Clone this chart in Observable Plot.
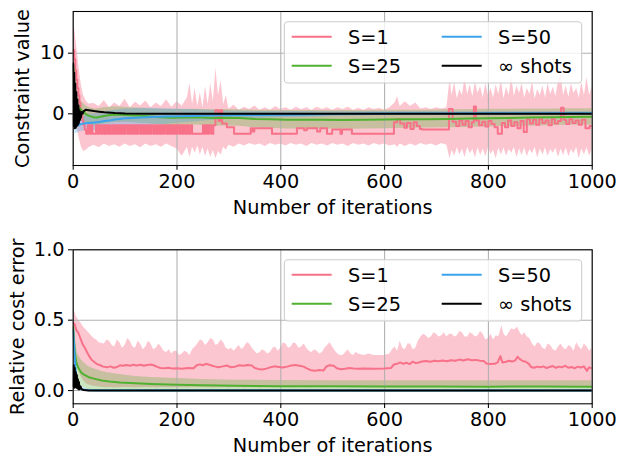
<!DOCTYPE html>
<html><head><meta charset="utf-8">
<script src="https://cdn.jsdelivr.net/npm/d3@7"></script>
<script src="https://cdn.jsdelivr.net/npm/@observablehq/plot@0.6"></script>
<style>
body{margin:0;background:#fff;}
#wrap{position:relative;width:619px;height:457px;overflow:hidden;}
#wrap svg.plotsvg{display:block;}
#legend{position:absolute;left:0;top:0;pointer-events:none;}
</style></head><body><div id="wrap"></div>
<script>
// ---------- shared ----------
const xTicks = [0, 200, 400, 600, 800, 1000];
const topYTicks = [0, 10];
const botYTicks = [0, 0.5, 1.0];
const seriesNames = ["S=1", "S=25", "S=50", "\u221e shots"];
const seriesColors = ["#f77189", "#50b131", "#3ba3ec", "#000000"];
const xLabel = "Number of iterations";
const topYLabel = "Constraint value";
const botYLabel = "Relative cost error";

// ---------- top panel: constraint value ----------
// [iteration, value]
const topS1Line = [[0,10.5],[2,9.0],[4,7.2],[6,5.6],[8,4.2],[10,3.0],[12,1.8],[14,0.6],[16,-0.4],[18,-1.2],[20,-1.9],[22,-2.6],[25,-3.3],
[28,-1.9],[31,-3.3],[34,-1.9],[37,-3.3],[40,-3.3],[44,-1.9],[47,-3.3],[50,-1.9],[53,-3.3],[57,-1.9],[60,-3.3],[63,-1.9],[66,-3.3],[69,-1.9],[72,-3.3],[76,-1.9],[79,-3.3],[82,-1.9],[85,-3.3],[88,-1.9],[91,-3.3],[94,-1.9],[97,-3.3],[100,-1.9],[104,-3.3],[107,-1.9],[110,-3.3],[113,-1.9],[116,-3.3],[119,-1.9],[122,-3.3],[125,-1.9],[129,-3.3],[132,-1.9],[135,-3.3],[138,-1.9],[141,-3.3],[144,-1.9],[147,-3.3],[150,-1.9],[154,-3.3],[157,-1.9],[160,-3.3],[163,-1.9],[166,-3.3],[169,-1.9],[172,-3.3],[175,-1.9],[179,-3.3],[182,-1.9],[185,-3.3],[188,-1.9],[191,-3.3],[194,-1.9],[197,-3.3],[200,-1.9],[204,-3.3],[207,-1.9],[210,-3.3],[213,-1.9],[216,-3.3],[219,-1.9],[222,-3.3],[226,-1.9],[229,-3.3],
[250,-1.9],[253,-3.3],[256,-1.9],[259,-3.3],[262,-1.9],[266,-3.3],[270,-1.9],[274,0.6],[280,-1.2],[284,0.6],[287,-1.6],[296,-2.2],[310,-3.3],[342,-2.4],[346,-2.9],[349,-2.4],[383,-3.3],[431,-2.4],[445,-2.7],[450,-2.4],[470,-2.9],[476,-2.4],[489,-3.3],[499,-2.6],[515,-3.3],[518,-2.6],[537,-3.3],
[618,-1.4],[624,-0.9],[630,-1.6],[638,-2.3],[643,-1.5],[650,-2.5],[656,-1.4],[662,-2.0],[668,-2.5],[672,-2.6],[724,0.8],[731,-1.3],[738,-2.0],[744,-1.1],[750,-1.8],[756,-1.2],[762,-2.2],[768,-1.4],[772,1.2],[776,-1.1],[782,-1.9],[788,-1.3],[794,-2.1],[800,-1.2],[806,-1.7],[812,-2.2],[818,-3.3],[826,-1.5],[832,-2.2],[838,-1.1],[844,-2.0],[850,-1.4],[856,-2.4],[862,-1.2],[868,-3.0],[874,-0.9],[880,-1.6],[886,-1.0],[892,-1.8],[898,-0.9],[904,-1.5],[910,-1.1],[916,-1.9],[922,-0.9],[928,-1.6],[934,-1.2],[940,1.0],[945,-1.0],[950,-1.7],[956,-0.9],[962,-1.5],[968,-1.1],[974,-1.8],[980,-1.0],[987,-2.4],[995,-2.0],[1000,-2.0]];
// [iteration, lower, upper]
const topS1Band = [[0,5.0,15.5],[2,2.0,14.5],[4,0.0,13.2],[6,-1.5,11.8],[8,-2.5,10.2],[10,-3.5,8.6],[13,-4.5,6.5],[16,-5.5,4.6],[20,-6.2,3.0],[25,-6.0,2.1],[30,-5.6,1.6],
[40,-5.2,1.7],[50,-5.6,1.2],[60,-5.0,2.2],[70,-5.4,1.0],[80,-5.1,1.8],[90,-5.5,1.2],[100,-5.0,2.4],[110,-5.4,1.0],[120,-5.1,1.9],[130,-5.6,1.3],[140,-5.0,2.1],[150,-5.4,1.0],[160,-5.1,1.8],[170,-5.5,1.2],[180,-5.0,2.3],[190,-5.4,1.1],[200,-5.8,2.0],[210,-7.0,1.3],[220,-5.5,2.6],
[225,-7.2,5.0],[230,-5.5,1.5],[235,-6.5,4.2],[240,-5.3,1.2],[245,-6.8,3.5],[250,-5.5,1.0],[255,-7.0,4.5],[260,-5.8,1.5],[265,-7.2,5.0],[270,-6.0,2.0],[275,-7.4,7.5],[280,-6.2,3.0],[285,-6.8,5.5],[290,-5.5,1.5],[295,-6.0,3.0],[300,-5.2,0.8],
[310,-5.5,1.4],[320,-5.0,0.6],[330,-5.3,1.1],[340,-4.9,0.7],[350,-5.2,1.3],[360,-5.0,0.6],[370,-5.4,1.0],[380,-4.9,0.6],[390,-5.2,1.2],[400,-5.0,0.7],[410,-5.3,1.0],[420,-4.9,0.6],[430,-5.2,1.1],[440,-5.0,0.7],[450,-5.4,1.0],[460,-4.9,0.6],[470,-5.2,1.1],[480,-5.0,0.7],[490,-5.3,1.0],[500,-4.9,0.6],[510,-5.2,1.0],[520,-5.0,0.7],[530,-5.4,1.1],[540,-4.9,0.6],[550,-5.2,0.9],[560,-5.0,0.6],[570,-5.3,1.0],[580,-4.9,0.7],[590,-5.2,0.9],[600,-5.0,0.6],[610,-5.3,1.0],[620,-5.1,1.8],[625,-5.5,2.8],[630,-5.0,1.2],[640,-5.4,2.0],[650,-5.0,1.2],[660,-5.3,1.8],[670,-4.9,0.8],[680,-5.2,1.0],[690,-5.0,0.7],[700,-5.3,1.0],[710,-4.9,0.8],[720,-5.2,1.0],
[726,-7.4,5.6],[730,-6.0,3.0],[735,-7.0,5.2],[740,-5.6,2.5],[745,-6.8,4.0],[750,-5.8,3.0],[755,-7.2,6.0],[760,-5.5,3.2],[765,-6.6,4.8],[770,-5.9,2.8],[775,-7.3,5.2],[780,-5.6,3.4],[785,-6.9,4.5],[790,-5.8,2.6],[795,-7.1,5.0],[800,-5.5,3.0],[805,-6.7,4.2],[810,-6.0,2.6],[815,-7.4,4.8],[820,-5.7,3.2],[825,-6.8,5.5],[830,-5.6,2.5],[835,-7.0,4.4],[840,-5.9,3.0],[845,-6.5,6.2],[850,-5.5,2.8],[855,-7.2,4.6],[860,-5.8,3.4],[865,-6.9,5.0],[870,-5.6,2.6],[875,-7.1,4.2],[880,-5.9,3.2],[885,-6.6,5.3],[890,-5.5,2.4],[895,-7.3,4.0],[900,-5.8,3.0],[905,-6.8,4.6],[910,-5.6,2.6],[915,-7.0,5.0],[920,-5.9,3.2],[925,-6.5,4.4],[930,-5.7,2.8],[935,-7.2,5.4],[940,-5.8,6.5],[945,-6.9,3.0],[950,-5.6,4.6],[955,-7.1,2.7],[960,-5.9,5.0],[965,-6.6,3.3],[970,-5.5,4.2],[975,-7.4,2.6],[980,-5.8,5.2],[985,-6.8,3.0],[990,-5.6,6.0],[995,-7.0,3.0],[1000,-5.9,4.5]];
const topS25Line = [[0,8.0],[2,5.5],[4,3.6],[6,2.2],[8,1.2],[10,0.5],[13,0.9],[16,0.6],[20,0.3],[25,-0.1],[30,-0.3],[36,-0.5],[42,-0.6],[46,-0.62],[52,-0.5],[60,-0.35],[70,-0.2],[82,-0.15],[95,-0.15],[110,-0.22],[130,-0.33],[150,-0.45],[170,-0.55],[190,-0.65],[215,-0.6],[240,-0.55],[265,-0.7],[290,-0.65],[320,-0.7],[350,-0.85],[380,-0.9],[410,-1.0],[440,-1.0],[480,-1.0],[520,-1.02],[560,-1.0],[600,-0.95],[640,-0.9],[680,-0.88],[720,-0.85],[760,-0.78],[800,-0.72],[840,-0.68],[880,-0.62],[920,-0.57],[960,-0.52],[1000,-0.48]];
const topS25Band = [[0,4.0,11.0],[2,1.5,9.0],[4,-0.2,7.0],[6,-1.0,5.0],[8,-1.4,3.5],[10,-1.6,2.5],[13,-1.2,2.3],[16,-1.2,2.0],[20,-1.3,1.7],[25,-1.5,1.3],[30,-1.7,1.1],[36,-1.9,0.9],[42,-2.0,0.8],[46,-2.0,0.8],[52,-1.9,0.9],[60,-1.7,1.0],[70,-1.5,1.1],[82,-1.45,1.15],[95,-1.4,1.1],[110,-1.45,1.0],[130,-1.55,0.9],[150,-1.7,0.8],[170,-1.85,0.75],[190,-2.0,0.7],[215,-1.9,0.7],[240,-1.85,0.75],[265,-2.05,0.65],[290,-2.0,0.7],[320,-2.05,0.65],[350,-2.3,0.6],[380,-2.4,0.6],[410,-2.5,0.55],[440,-2.5,0.55],[480,-2.5,0.55],[520,-2.55,0.55],[560,-2.5,0.55],[600,-2.45,0.6],[640,-2.4,0.6],[680,-2.35,0.6],[720,-2.3,0.65],[760,-2.25,0.7],[800,-2.15,0.75],[840,-2.1,0.75],[880,-2.05,0.8],[920,-1.95,0.8],[960,-1.9,0.85],[1000,-1.85,0.85]];
const topS50Line = [[3,-2.0],[6,-1.95],[10,-1.85],[15,-1.7],[20,-1.6],[30,-1.5],[40,-1.45],[50,-1.35],[60,-1.2],[70,-1.1],[80,-0.95],[90,-0.85],[100,-0.75],[115,-0.68],[130,-0.6],[150,-0.52],[175,-0.46],[200,-0.4],[230,-0.35],[260,-0.3],[300,-0.25],[350,-0.2],[400,-0.15],[450,-0.1],[500,-0.05],[600,0.03],[700,0.07],[800,0.09],[900,0.1],[1000,0.1]];
const topS50Band = [[3,-3.3,-0.8],[6,-3.2,-0.7],[10,-3.1,-0.6],[15,-2.95,-0.45],[20,-2.85,-0.35],[30,-2.85,-0.15],[40,-2.8,0.0],[50,-2.75,0.15],[60,-2.65,0.3],[70,-2.55,0.45],[80,-2.45,0.6],[90,-2.35,0.7],[100,-2.25,0.8],[115,-2.15,0.85],[130,-2.05,0.9],[150,-1.9,0.9],[175,-1.75,0.85],[200,-1.55,0.8],[230,-1.35,0.7],[260,-1.15,0.6],[300,-0.9,0.45],[350,-0.78,0.4],[400,-0.65,0.38],[450,-0.55,0.36],[500,-0.45,0.35],[600,-0.3,0.35],[700,-0.2,0.35],[800,-0.17,0.35],[900,-0.15,0.35],[1000,-0.15,0.35]];
const topInfLine = [[0,8.3],[1,-2.0],[2,6.8],[3,-2.4],[4,5.0],[5,-2.3],[6,3.6],[7,-2.0],[8,2.4],[9,-1.8],[10,1.4],[11,-1.5],[12,0.6],[13,-1.0],[14,0.2],[15,-0.6],[16,0.3],[18,0.0],[20,0.4],[24,0.65],[30,0.6],[40,0.45],[50,0.35],[60,0.25],[80,0.12],[100,0.06],[150,0.02],[200,0.0],[1000,0.0]];

// ---------- bottom panel: relative cost error ----------
const botS1Line = [[0,0.48],[3,0.47],[6,0.43],[10,0.41],[14,0.37],[18,0.33],[23,0.30],[27,0.27],[30,0.25],[35,0.22],[40,0.205],[45,0.19],[52,0.18],[58,0.17],[65,0.165],[72,0.172],[78,0.162],[85,0.168],[90,0.18],[96,0.176],[102,0.182],[110,0.176],[116,0.184],[122,0.178],[130,0.183],[136,0.176],[142,0.182],[150,0.185],[156,0.178],[162,0.168],[168,0.16],[176,0.158],[184,0.162],[192,0.156],[200,0.158],[210,0.155],[220,0.16],[232,0.158],[238,0.18],[244,0.186],[250,0.18],[256,0.19],[262,0.184],[268,0.176],[274,0.17],[280,0.165],[288,0.172],[296,0.178],[304,0.166],[312,0.17],[320,0.18],[328,0.176],[336,0.182],[344,0.178],[350,0.16],[356,0.154],[364,0.15],[372,0.156],[380,0.165],[388,0.172],[396,0.168],[404,0.164],[412,0.17],[420,0.178],[428,0.182],[436,0.176],[444,0.17],[451,0.156],[458,0.145],[466,0.14],[474,0.146],[482,0.142],[488,0.172],[494,0.18],[502,0.176],[508,0.158],[516,0.152],[524,0.155],[532,0.16],[540,0.156],[550,0.155],[560,0.156],[580,0.155],[600,0.156],[612,0.16],[618,0.185],[624,0.19],[630,0.2],[636,0.19],[642,0.198],[648,0.188],[654,0.205],[660,0.195],[666,0.2],[672,0.206],[680,0.21],[688,0.205],[696,0.212],[704,0.208],[712,0.214],[720,0.208],[728,0.216],[736,0.212],[744,0.22],[752,0.214],[760,0.222],[768,0.216],[776,0.218],[784,0.212],[791,0.21],[796,0.192],[804,0.188],[812,0.19],[818,0.2],[823,0.245],[827,0.2],[834,0.205],[840,0.212],[846,0.206],[852,0.215],[856,0.24],[860,0.225],[866,0.21],[872,0.205],[878,0.19],[882,0.168],[888,0.162],[894,0.17],[900,0.165],[906,0.172],[912,0.16],[918,0.168],[924,0.174],[930,0.162],[936,0.17],[942,0.166],[948,0.176],[954,0.162],[960,0.168],[966,0.158],[972,0.17],[978,0.164],[984,0.172],[990,0.14],[994,0.165],[1000,0.158]];
const botS1Band = [[0,0.38,0.57],[3,0.3,0.56],[6,0.22,0.53],[10,0.15,0.5],[15,0.1,0.48],[20,0.07,0.45],[25,0.05,0.43],[30,0.04,0.41],[35,0.035,0.39],[40,0.03,0.37],[45,0.028,0.36],[50,0.025,0.34],
[60,0.02,0.33],[65,0.02,0.36],[70,0.022,0.35],[75,0.02,0.32],[80,0.018,0.31],[85,0.02,0.36],[90,0.02,0.34],[95,0.02,0.30],[100,0.022,0.32],[105,0.02,0.37],[110,0.02,0.35],[115,0.02,0.31],[120,0.018,0.30],[125,0.02,0.35],[130,0.02,0.33],[135,0.02,0.29],[140,0.022,0.31],[145,0.02,0.35],[150,0.02,0.33],[155,0.02,0.29],[160,0.018,0.30],[165,0.02,0.33],[170,0.02,0.31],[175,0.02,0.28],[180,0.02,0.27],[185,0.02,0.29],[190,0.018,0.26],[195,0.02,0.28],[200,0.02,0.28],[205,0.02,0.25],[210,0.02,0.26],[215,0.02,0.28],[220,0.018,0.27],[225,0.02,0.25],[230,0.02,0.29],[235,0.02,0.31],[240,0.022,0.33],[245,0.02,0.36],[250,0.02,0.35],[255,0.02,0.32],[260,0.02,0.34],[265,0.02,0.37],[270,0.018,0.36],[275,0.02,0.32],[280,0.02,0.33],[285,0.02,0.36],[290,0.02,0.34],[295,0.02,0.30],[300,0.018,0.29],[305,0.02,0.30],[310,0.02,0.28],[315,0.02,0.30],[320,0.02,0.32],[325,0.02,0.29],[330,0.018,0.31],[335,0.02,0.34],[340,0.02,0.33],[345,0.02,0.30],[350,0.02,0.28],[355,0.02,0.26],[360,0.018,0.27],[365,0.02,0.29],[370,0.02,0.28],[375,0.02,0.26],[380,0.02,0.27],[385,0.02,0.30],[390,0.018,0.31],[395,0.02,0.28],[400,0.02,0.30],[405,0.02,0.34],[410,0.02,0.33],[415,0.02,0.30],[420,0.018,0.31],[425,0.02,0.34],[430,0.02,0.33],[435,0.02,0.30],[440,0.02,0.31],[445,0.02,0.33],[450,0.018,0.30],[455,0.02,0.28],[460,0.02,0.27],[465,0.02,0.29],[470,0.02,0.28],[475,0.02,0.26],[480,0.018,0.27],[485,0.02,0.30],[490,0.02,0.32],[495,0.02,0.34],[500,0.02,0.31],[505,0.02,0.28],[510,0.018,0.26],[515,0.02,0.25],[520,0.02,0.25],[525,0.02,0.27],[530,0.02,0.29],[535,0.02,0.26],[540,0.018,0.25],[545,0.02,0.27],[550,0.02,0.26],[560,0.02,0.25],[570,0.018,0.26],[580,0.02,0.25],[590,0.02,0.25],[600,0.018,0.25],[610,0.02,0.26],[615,0.02,0.29],[620,0.02,0.31],[625,0.02,0.28],[630,0.018,0.35],[635,0.02,0.30],[640,0.02,0.29],[645,0.02,0.33],[650,0.02,0.33],[655,0.02,0.29],[660,0.018,0.30],[665,0.02,0.35],[670,0.02,0.38],[675,0.02,0.40],[680,0.02,0.39],[685,0.02,0.37],[690,0.018,0.38],[695,0.02,0.41],[700,0.02,0.40],[705,0.02,0.38],[710,0.02,0.39],[715,0.02,0.41],[720,0.018,0.38],[725,0.02,0.40],[730,0.02,0.40],[735,0.02,0.38],[740,0.02,0.39],[745,0.02,0.42],[750,0.018,0.41],[755,0.02,0.38],[760,0.02,0.38],[765,0.02,0.41],[770,0.02,0.40],[775,0.02,0.38],[780,0.018,0.39],[785,0.02,0.42],[790,0.02,0.40],[795,0.02,0.36],[800,0.02,0.37],[805,0.02,0.40],[810,0.018,0.36],[815,0.02,0.39],[820,0.02,0.38],[826,0.02,0.46],[830,0.018,0.40],[835,0.02,0.38],[840,0.02,0.41],[845,0.02,0.44],[850,0.02,0.43],[856,0.018,0.45],[860,0.02,0.42],[865,0.02,0.39],[870,0.02,0.41],[875,0.02,0.38],[880,0.018,0.37],[885,0.02,0.33],[890,0.02,0.31],[895,0.02,0.34],[900,0.02,0.33],[905,0.02,0.30],[910,0.018,0.29],[915,0.02,0.33],[920,0.02,0.32],[925,0.02,0.29],[930,0.02,0.28],[935,0.02,0.31],[940,0.018,0.33],[945,0.02,0.30],[950,0.02,0.29],[955,0.02,0.32],[960,0.02,0.31],[965,0.02,0.28],[970,0.018,0.34],[975,0.02,0.31],[980,0.02,0.29],[985,0.02,0.33],[990,0.02,0.31],[995,0.02,0.28],[1000,0.018,0.30]];
const botS25Line = [[0,0.45],[3,0.28],[6,0.2],[10,0.16],[15,0.13],[20,0.115],[30,0.095],[40,0.085],[55,0.072],[70,0.065],[90,0.058],[120,0.052],[150,0.047],[200,0.042],[250,0.037],[310,0.034],[400,0.031],[500,0.03],[600,0.029],[700,0.029],[800,0.028],[900,0.029],[1000,0.028]];
const botS25Band = [[0,0.38,0.5],[3,0.14,0.4],[6,0.08,0.3],[10,0.05,0.25],[15,0.03,0.22],[20,0.02,0.2],[30,0.005,0.17],[40,0.0,0.155],[55,-0.005,0.135],[70,-0.008,0.125],[90,-0.01,0.115],[120,-0.011,0.1],[150,-0.012,0.093],[200,-0.012,0.085],[250,-0.012,0.078],[310,-0.013,0.074],[400,-0.013,0.071],[500,-0.013,0.07],[600,-0.013,0.07],[700,-0.013,0.069],[800,-0.013,0.069],[900,-0.013,0.069],[1000,-0.013,0.069]];
const botS50Line = [[0,0.43],[2,0.3],[4,0.18],[6,0.1],[8,0.06],[10,0.035],[13,0.02],[16,0.01],[20,0.005],[30,0.002],[50,0.001],[1000,0.001]];
const botS50Band = [[0,0.38,0.48],[2,0.24,0.36],[4,0.12,0.24],[6,0.06,0.15],[8,0.03,0.1],[10,0.01,0.065],[13,0.0,0.045],[16,-0.005,0.03],[20,-0.006,0.018],[30,-0.005,0.01],[50,-0.004,0.006],[1000,-0.003,0.005]];
const botInfLine = [[0,0.03],[1,0.18],[2,0.02],[3,0.16],[4,0.03],[5,0.13],[6,0.02],[7,0.11],[8,0.02],[9,0.08],[10,0.01],[11,0.06],[12,0.01],[14,0.03],[16,0.01],[20,0.004],[30,0.001],[50,0],[1000,0]];

// ---------- build ----------
const asLine = a => a.map(([it, v]) => ({it, v}));
const asBand = a => a.map(([it, lo, hi]) => ({it, lo, hi}));
const FS = 19.3;

function panel(o) {
  const bandOp = [0.4, 0.3, 0.3];
  const marks = [];
  o.bands.forEach((b, i) => marks.push(Plot.areaY(asBand(b), {x: "it", y1: "lo", y2: "hi", fill: seriesColors[i], fillOpacity: bandOp[i], clip: true})));
  marks.push(Plot.gridX(xTicks, {stroke: "#b0b0b0", strokeOpacity: 1, strokeWidth: 1.07}));
  marks.push(Plot.gridY(o.yTicks, {stroke: "#b0b0b0", strokeOpacity: 1, strokeWidth: 1.07}));
  o.lines.forEach((l, i) => marks.push(Plot.line(asLine(l), {x: "it", y: "v", stroke: seriesColors[i], strokeWidth: 2, curve: (i === 0 && o.step) ? "step-after" : "linear", clip: true})));
  marks.push(Plot.axisX(xTicks, {tickSize: 4.67, tickPadding: 4, tickFormat: d => String(d), label: null, strokeWidth: 1.07}));
  marks.push(Plot.axisY(o.yTicks, {tickSize: 4.67, tickPadding: 4, tickFormat: o.yFmt, label: null, strokeWidth: 1.07}));
  marks.push(Plot.frame({stroke: "black", strokeWidth: 1.07}));
  marks.push(Plot.text([xLabel], {text: d => d, frameAnchor: "bottom", dy: 48.5, lineAnchor: "bottom", fontSize: FS}));
  marks.push(Plot.text([o.yLabel], {text: d => d, frameAnchor: "left", rotate: -90, dx: o.yLabelDx, lineAnchor: "bottom", textAnchor: "middle", fontSize: FS}));
  const svg = Plot.plot({
    width: 619, height: o.height,
    marginLeft: 72.7, marginRight: 27.3, marginTop: o.marginTop, marginBottom: o.marginBottom,
    x: {domain: [0, 1000]},
    y: {domain: o.yDomain},
    style: {fontFamily: "DejaVu Sans", fontSize: FS + "px", overflow: "visible", background: "transparent"},
    marks
  });
  svg.classList.add("plotsvg");
  return svg;
}

const wrap = document.getElementById("wrap");
wrap.appendChild(panel({
  height: 229, marginTop: 11, marginBottom: 64, yDomain: [-8.53, 16.88], yTicks: topYTicks,
  yFmt: d => String(d), yLabel: topYLabel, yLabelDx: -44.4, step: true,
  bands: [topS1Band, topS25Band, topS50Band],
  lines: [topS1Line, topS25Line, topS50Line, topInfLine]
}));
wrap.appendChild(panel({
  height: 228, marginTop: 20.3, marginBottom: 53.7, yDomain: [-0.094, 1.0], yTicks: botYTicks,
  yFmt: d3.format(".1f"), yLabel: botYLabel, yLabelDx: -49.4, step: false,
  bands: [botS1Band, botS25Band, botS50Band],
  lines: [botS1Line, botS25Line, botS50Line, botInfLine]
}));

// ---------- legends ----------
function legendSVG(top) {
  const rows = [top + 15, top + 44];
  const cols = [{lx: 291.7, tx: 348}, {lx: 441.7, tx: 498}];
  let s = `<rect x="284.3" y="${top}" width="297.4" height="61.3" rx="3.7" ry="3.7" fill="#ffffff" fill-opacity="0.8" stroke="#cccccc" stroke-width="1.07"/>`;
  seriesNames.forEach((name, i) => {
    const c = cols[Math.floor(i / 2)], r = rows[i % 2];
    s += `<line x1="${c.lx}" x2="${c.lx + 40}" y1="${r}" y2="${r}" stroke="${seriesColors[i]}" stroke-width="2"/>`;
    s += `<text x="${c.tx}" y="${r + 7.3}" font-family="DejaVu Sans" font-size="${FS}" fill="#000">${name}</text>`;
  });
  return s;
}
const leg = document.createElementNS("http://www.w3.org/2000/svg", "svg");
leg.setAttribute("id", "legend");
leg.setAttribute("width", 619);
leg.setAttribute("height", 457);
leg.innerHTML = legendSVG(21.7) + legendSVG(259.7);
wrap.appendChild(leg);
</script></body></html>
